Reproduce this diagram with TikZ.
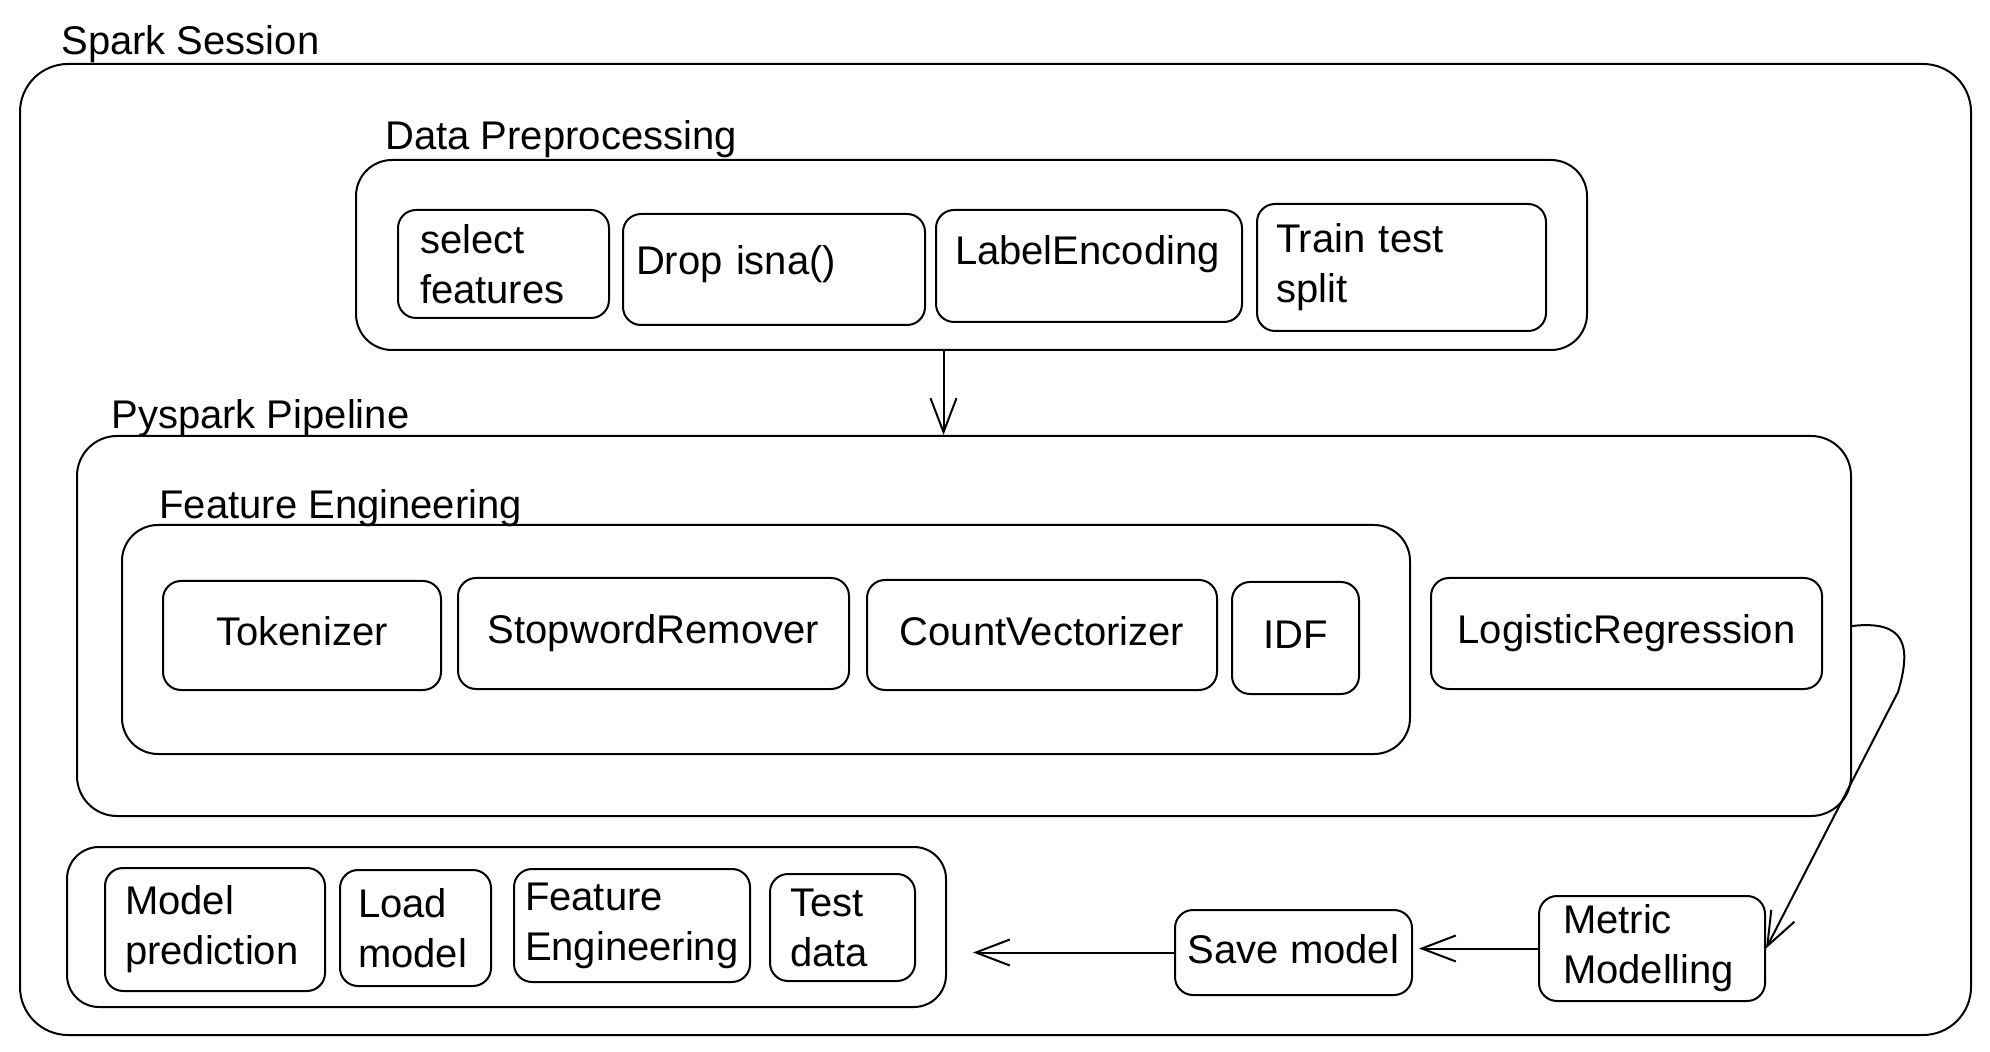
\documentclass[tikz,border=0pt]{standalone}
\usepackage{fontspec}
\setmainfont{Liberation Sans}
\usetikzlibrary{arrows.meta}
\begin{document}
\begin{tikzpicture}[x=0.5pt,y=-0.5pt,
  ln/.style={line width=1pt, line cap=round, line join=round},
  cont/.style={draw, ln, anchor=north west, inner sep=0pt},
  lab/.style={anchor=base west, inner sep=0pt, font=\fontsize{20}{24}\selectfont},
  box/.style={draw, ln, rounded corners=9pt, anchor=north west, font=\fontsize{20}{25}\selectfont},
  cbox/.style={box, align=center, inner sep=0pt, text height=14.5pt, text depth=4.2pt},
  lbox/.style={box, align=left, inner ysep=0pt},
  arr/.style={ln, -{Straight Barb[length=17pt,width=13pt]}}
]
\useasboundingbox (0,0) rectangle (1990,1052);
\fill[white] (0,0) rectangle (1990,1052);

% Spark Session
\node[cont, rounded corners=24pt, minimum width=975.5pt, minimum height=485.5pt] (ss) at (19,63) {};
\node[lab] (ssl) at (61,55) {Spark Session};

% Data Preprocessing
\node[cont, rounded corners=18pt, minimum width=615.5pt, minimum height=95pt] (dp) at (355,159) {};
\node[lab] (dpl) at (385,150) {Data Preprocessing};
\node[lbox, inner xsep=11pt, text width=83.5pt, minimum height=54pt] (sf) at (397,209) {select\\features};
\node[lbox, inner xsep=6.5pt, text width=138pt, minimum height=55.5pt, text height=14.5pt, text depth=9.2pt] (dr) at (622,213) {Drop isna()};
\node[lbox, inner xsep=9.5pt, text width=134pt, minimum height=56pt, text height=14.5pt, text depth=15.6pt] (le) at (935,209) {LabelEncoding};
\node[lbox, inner xsep=9.5pt, text width=125.5pt, minimum height=63.5pt] (tts) at (1256,203) {Train test\\split};

% Pyspark Pipeline
\node[cont, rounded corners=20pt, minimum width=887pt, minimum height=190pt] (pp) at (76,435) {};
\node[lab] (ppl) at (111,429) {Pyspark Pipeline};
\node[cont, rounded corners=18pt, minimum width=644pt, minimum height=114.5pt] (fe) at (121,524) {};
\node[lab] (fel) at (159,519) {Feature Engineering};
\node[cbox, minimum width=139pt, minimum height=54.5pt] (tok) at (162,580) {Tokenizer};
\node[cbox, minimum width=195.5pt, minimum height=55.5pt] (swr) at (457,577) {StopwordRemover};
\node[cbox, minimum width=175pt, minimum height=55pt] (cv) at (866,579) {CountVectorizer};
\node[cbox, minimum width=63.5pt, minimum height=56pt] (idf) at (1231,581) {IDF};
\node[cbox, minimum width=195.5pt, minimum height=55.5pt] (lr) at (1430,577) {LogisticRegression};

% bottom group
\node[cont, rounded corners=16pt, minimum width=439.5pt, minimum height=80pt] (bb) at (66,846) {};
\node[lbox, inner xsep=10pt, text width=90pt, minimum height=61.5pt] (mp) at (104,867) {Model\\prediction};
\node[lbox, inner xsep=9pt, text width=57.5pt, minimum height=58pt] (lm) at (339,869) {Load\\model};
\node[lbox, inner xsep=5.5pt, text width=107pt, minimum height=56.5pt] (fe2) at (513,868) {Feature\\Engineering};
\node[lbox, inner xsep=10pt, text width=52.5pt, minimum height=53.5pt] (td) at (769,873) {Test\\data};
\node[cbox, minimum width=118.5pt, minimum height=42.5pt, text height=15.5pt] (sm) at (1174,909) {Save model};
\node[lbox, inner xsep=12pt, text width=89pt, minimum height=52.5pt] (mm) at (1538,895) {Metric\\Modelling};

% connectors
\draw[arr] ([xshift=-14pt]dp.south) -- ([xshift=-14pt]dp.south |- pp.north);
\draw[arr] (pp.east) .. controls (1905,620) and (1912,645) .. (1898,692) -- (mm.east);
\draw[arr, shorten >=3pt] (mm.west) -- (mm.west -| sm.east);
\draw[arr, shorten >=13pt] (sm.west) -- (sm.west -| bb.east);
\end{tikzpicture}
\end{document}
